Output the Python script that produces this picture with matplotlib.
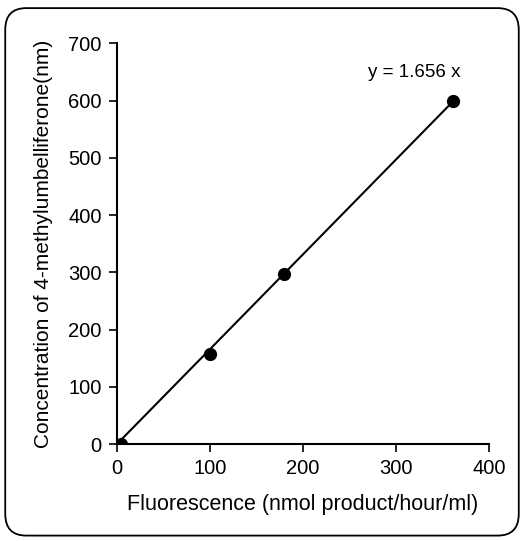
import numpy as np
import matplotlib.pyplot as plt
from matplotlib.patches import FancyBboxPatch

plt.rcParams['font.family'] = ['Liberation Sans', 'DejaVu Sans']

# data
fluorescence = [4, 100, 180, 361]
concentration = [0, 158, 297, 600]
slope = 1.656
fit_x = [0, 362]

x_ticks = [0, 100, 200, 300, 400]
y_ticks = [0, 100, 200, 300, 400, 500, 600, 700]

fig = plt.figure(figsize=(5.24, 5.41), dpi=100)
ax = fig.add_axes([0.223, 0.179, 0.71, 0.741])

# rounded frame round the whole figure
frame = FancyBboxPatch((0.01, 0.01), 0.98, 0.975, boxstyle='round,pad=0,rounding_size=0.04',
                       transform=fig.transFigure, fill=False, edgecolor='black', linewidth=1.3)
fig.patches.append(frame)

fit_y = [slope * v for v in fit_x]
ax.plot(fit_x, fit_y, color='black', linewidth=1.5)
ax.plot(fluorescence, concentration, 'o', color='black', markersize=8.5)

ax.text(320, 649, 'y = 1.656 x', ha='center', va='center', fontsize=13.5)

ax.set_xlim(0, 400)
ax.set_ylim(0, 700)
ax.set_xticks(x_ticks)
ax.set_yticks(y_ticks)
ax.tick_params(direction='out', length=6, width=1.2, labelsize=14.5, pad=5)
for s in ['top', 'right']:
    ax.spines[s].set_visible(False)
for s in ['left', 'bottom']:
    ax.spines[s].set_linewidth(1.5)

ax.set_xlabel('Fluorescence (nmol product/hour/ml)', fontsize=15.5, labelpad=11)
ax.set_ylabel('Concentration of 4-methylumbelliferone(nm)', fontsize=15, labelpad=11)

fig.savefig('out.png', dpi=100)
